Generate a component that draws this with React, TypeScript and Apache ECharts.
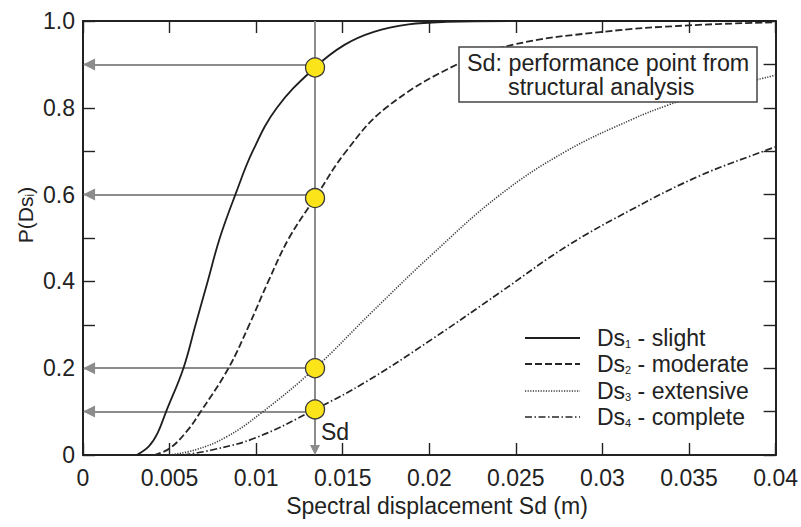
import React, { useEffect, useRef } from 'react';
import * as echarts from 'echarts';

// ---- data ----
const seriesNames = ['Ds1 - slight', 'Ds2 - moderate', 'Ds3 - extensive', 'Ds4 - complete'];

const slight: [number, number][] = [
  [0.0031, 0], [0.0038, 0.02], [0.0043, 0.05], [0.0048, 0.1], [0.0058, 0.2], [0.0065, 0.3],
  [0.0072, 0.4], [0.0079, 0.5], [0.0088, 0.6], [0.0098, 0.7], [0.0112, 0.8], [0.0134, 0.893],
  [0.0151, 0.945], [0.0168, 0.975], [0.0188, 0.992], [0.021, 0.998], [0.025, 1], [0.04, 1],
];
const moderate: [number, number][] = [
  [0.0041, 0], [0.005, 0.015], [0.006, 0.055], [0.0068, 0.1], [0.0084, 0.2], [0.0096, 0.3],
  [0.0107, 0.4], [0.0119, 0.5], [0.0134, 0.592], [0.0152, 0.7], [0.0175, 0.8], [0.0216, 0.9],
  [0.0248, 0.945], [0.03, 0.975], [0.035, 0.99], [0.04, 0.997],
];
const extensive: [number, number][] = [
  [0.005, 0], [0.0065, 0.012], [0.0083, 0.042], [0.0103, 0.097], [0.0134, 0.2], [0.0167, 0.33],
  [0.0201, 0.46], [0.0241, 0.6], [0.0279, 0.7], [0.0318, 0.775], [0.0337, 0.805], [0.036, 0.835],
  [0.04, 0.875],
];
const complete: [number, number][] = [
  [0.0058, 0], [0.0075, 0.012], [0.01, 0.04], [0.0134, 0.105], [0.0164, 0.17], [0.0202, 0.268],
  [0.0241, 0.375], [0.0279, 0.48], [0.0318, 0.568], [0.0356, 0.643], [0.0395, 0.703], [0.04, 0.71],
];

const sdValue = 0.0134;
const performancePoints: [number, number][] = [
  [0.0134, 0.893], [0.0134, 0.592], [0.0134, 0.2], [0.0134, 0.105],
];
const arrowLevels = [0.9, 0.6, 0.2, 0.1];

const FONT = '"Liberation Sans", Arial, Helvetica, sans-serif';
const INK = '#222';

const curveStyles = [
  { color: '#1e1e1e', width: 1.8, dash: null as number[] | null },
  { color: '#262626', width: 1.8, dash: [7, 3] },
  { color: '#3a3a3a', width: 1.6, dash: [1.2, 1.4] },
  { color: '#262626', width: 1.7, dash: [7, 2.5, 1.5, 2.5] },
];

export default function App() {
  const ref = useRef<HTMLDivElement>(null);

  useEffect(() => {
    if (!ref.current) return;
    const chart = echarts.init(ref.current, null, { renderer: 'svg' });

    const lineSeries = (i: number, data: [number, number][]) => ({
      name: seriesNames[i],
      type: 'line',
      data,
      smooth: 0.4,
      symbol: 'none',
      showSymbol: false,
      clip: true,
      silent: true,
      z: 3,
      lineStyle: { color: curveStyles[i].color, width: curveStyles[i].width, type: curveStyles[i].dash || 'solid' },
      itemStyle: { color: curveStyles[i].color },
    });

    const axisCommon = {
      type: 'value',
      axisLine: { show: true, onZero: false, lineStyle: { color: INK, width: 2 } },
      axisTick: { show: true, inside: true, length: 12, lineStyle: { color: INK, width: 1.4 } },
      splitLine: { show: false },
    };

    const arrowLines: any[] = arrowLevels.map((lv) => [
      { coord: [sdValue, lv], symbol: 'none' },
      { coord: [0.00035, lv], symbol: 'triangle', symbolSize: 12 },
    ]);
    arrowLines.push([
      { coord: [sdValue, 1], symbol: 'none' },
      { coord: [sdValue, 0.0115], symbol: 'triangle', symbolSize: 10 },
    ]);

    const subRich = (size: number) => ({
      s: { fontSize: size, lineHeight: 1, verticalAlign: 'bottom', fontFamily: FONT, fill: INK },
    });

    // legend drawn as graphics so that the line samples keep their dash patterns
    const legendRows = [338, 364, 391, 417];
    const legendGraphics: any[] = [];
    seriesNames.forEach((name, i) => {
      const y = legendRows[i];
      const st = curveStyles[i];
      legendGraphics.push({
        type: 'line',
        z: 100,
        shape: { x1: 525, y1: y, x2: 580, y2: y },
        style: { stroke: st.color, lineWidth: st.width, lineDash: st.dash || undefined },
      });
      legendGraphics.push({
        type: 'text',
        z: 101,
        x: 597,
        y,
        style: {
          text: name.replace(/Ds(\d)/, 'Ds{s|$1}'),
          fontSize: 23,
          lineHeight: 23,
          fontFamily: FONT,
          fill: INK,
          align: 'left',
          verticalAlign: 'middle',
          rich: subRich(11),
        },
      });
    });

    const option: any = {
      animation: false,
      backgroundColor: '#fff',
      textStyle: { fontFamily: FONT },
      grid: { left: 83, right: 24, top: 21, bottom: 72, containLabel: false },
      xAxis: [
        {
          ...axisCommon,
          min: 0,
          max: 0.04,
          interval: 0.005,
          position: 'bottom',
          axisLabel: {
            margin: 11,
            fontSize: 23,
            color: INK,
            fontFamily: FONT,
            showMaxLabel: true,
            showMinLabel: true,
            formatter: (v: number) => (v === 0 ? '0' : String(+v.toFixed(3))),
          },
        },
        {
          ...axisCommon,
          min: 0,
          max: 0.04,
          interval: 0.005,
          position: 'top',
          axisLabel: { show: false },
        },
      ],
      yAxis: [
        {
          ...axisCommon,
          min: 0,
          max: 1,
          interval: 0.1,
          position: 'left',
          axisLabel: {
            margin: 8,
            fontSize: 23,
            color: INK,
            fontFamily: FONT,
            formatter: (v: number) => {
              const r = Math.round(v * 10);
              if (r % 2 !== 0) return '';
              if (r === 0) return '0';
              return (r / 10).toFixed(1);
            },
          },
        },
        {
          ...axisCommon,
          min: 0,
          max: 1,
          interval: 0.1,
          position: 'right',
          axisLabel: { show: false },
        },
      ],
      series: [
        lineSeries(0, slight),
        lineSeries(1, moderate),
        lineSeries(2, extensive),
        lineSeries(3, complete),
        {
          name: 'guides',
          type: 'line',
          data: [],
          silent: true,
          z: 2,
          markLine: {
            silent: true,
            z: 2,
            symbol: ['none', 'triangle'],
            symbolSize: 12,
            label: { show: false },
            emphasis: { disabled: true },
            lineStyle: { color: '#8c8c8c', width: 2, type: 'solid' },
            data: arrowLines,
          },
        },
        {
          name: 'points',
          type: 'scatter',
          data: performancePoints,
          symbolSize: 19,
          silent: true,
          z: 10,
          itemStyle: { color: '#fbe41a', borderColor: '#3a3a3a', borderWidth: 1.3, opacity: 1 },
        },
      ],
      graphic: [
        {
          type: 'rect',
          z: 100,
          shape: { x: 459, y: 47, width: 298, height: 55 },
          style: { fill: '#fff', stroke: '#444', lineWidth: 1.5 },
        },
        {
          type: 'text',
          z: 101,
          x: 467,
          y: 63,
          style: {
            text: 'Sd: performance point from',
            fontSize: 23.3,
            lineHeight: 23,
            fontFamily: FONT,
            fill: INK,
            align: 'left',
            verticalAlign: 'middle',
          },
        },
        {
          type: 'text',
          z: 101,
          x: 508,
          y: 87,
          style: {
            text: 'structural analysis',
            fontSize: 23.3,
            lineHeight: 23,
            fontFamily: FONT,
            fill: INK,
            align: 'left',
            verticalAlign: 'middle',
          },
        },
        {
          type: 'text',
          z: 101,
          x: 321,
          y: 432,
          style: { text: 'Sd', fontSize: 23, fontFamily: FONT, fill: INK, align: 'left', verticalAlign: 'middle' },
        },
        {
          type: 'text',
          z: 101,
          x: 25,
          y: 215,
          rotation: Math.PI / 2,
          style: {
            text: 'P(Ds{s|i})',
            fontSize: 21,
            lineHeight: 21,
            fontFamily: FONT,
            fill: INK,
            align: 'center',
            verticalAlign: 'middle',
            rich: subRich(12),
          },
        },
        {
          type: 'text',
          z: 101,
          x: 437,
          y: 506,
          style: {
            text: 'Spectral displacement Sd (m)',
            fontSize: 23,
            fontFamily: FONT,
            fill: INK,
            align: 'center',
            verticalAlign: 'middle',
          },
        },
        ...legendGraphics,
      ],
    };

    chart.setOption(option);
    return () => chart.dispose();
  }, []);

  return (
    <div
      ref={ref}
      style={{ position: 'fixed', left: 0, top: 0, width: 801, height: 527, background: '#fff' }}
    />
  );
}
